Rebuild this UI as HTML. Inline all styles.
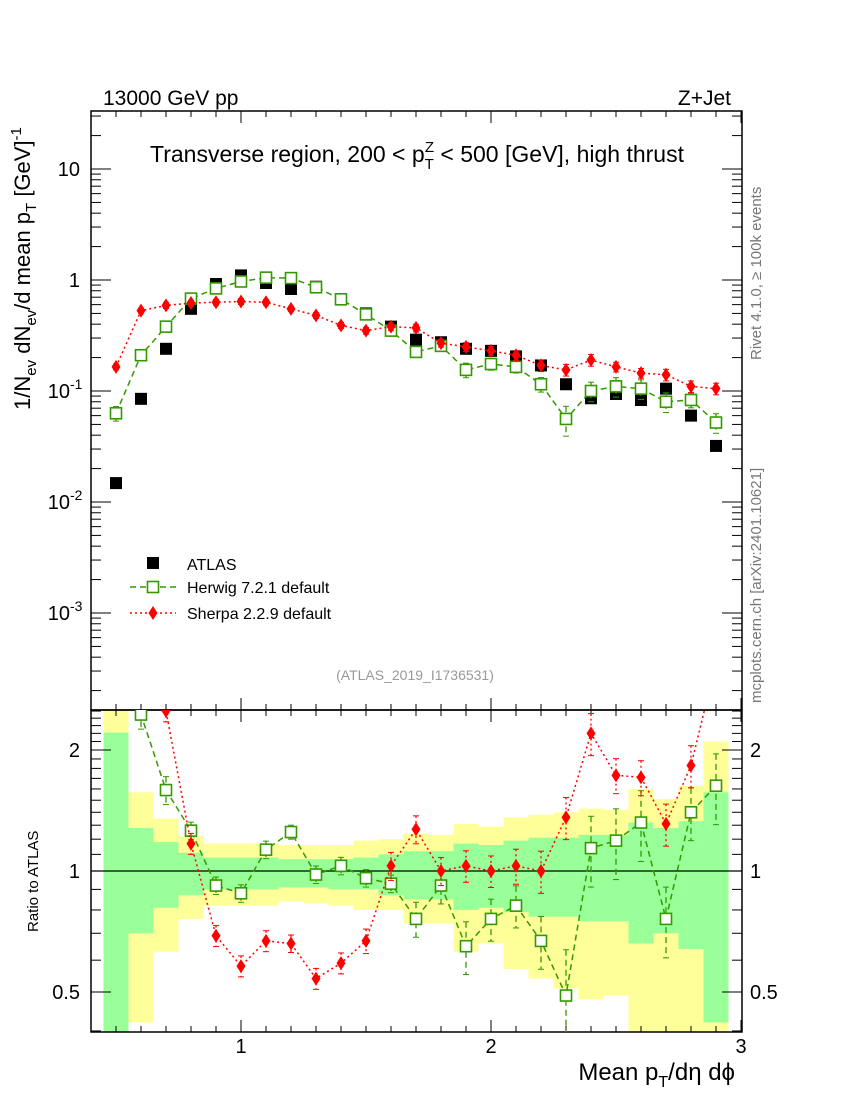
<!DOCTYPE html>
<html><head><meta charset="utf-8"><style>
html,body{margin:0;padding:0;background:#fff;}
svg{display:block;font-family:"Liberation Sans",sans-serif;}
</style></head><body>
<svg id="chart" width="850" height="1100" viewBox="0 0 850 1100" xmlns="http://www.w3.org/2000/svg"></svg>
<script>
const xCenters=[0.5,0.6,0.7,0.8,0.9,1.0,1.1,1.2,1.3,1.4,1.5,1.6,1.7,1.8,1.9,2.0,2.1,2.2,2.3,2.4,2.5,2.6,2.7,2.8,2.9];
const atlasVals=[0.0148,0.085,0.24,0.55,0.92,1.1,0.94,0.83,0.87,0.67,0.5,0.38,0.29,0.275,0.24,0.23,0.205,0.17,0.115,0.086,0.094,0.083,0.105,0.06,0.032];
const herwigVals=[0.063,0.21,0.38,0.68,0.84,0.97,1.05,1.04,0.86,0.67,0.49,0.35,0.225,0.255,0.155,0.175,0.165,0.115,0.056,0.1,0.11,0.105,0.08,0.083,0.052];
const sherpaVals=[0.165,0.53,0.59,0.62,0.63,0.64,0.63,0.55,0.48,0.39,0.35,0.38,0.37,0.27,0.25,0.23,0.21,0.17,0.155,0.19,0.165,0.145,0.14,0.11,0.105];
const herwigRatio=[4.3,2.45,1.59,1.26,0.92,0.88,1.13,1.25,0.98,1.03,0.96,0.93,0.76,0.92,0.65,0.76,0.82,0.67,0.49,1.14,1.19,1.32,0.76,1.40,1.63];
const sherpaRatio=[11,6.2,2.5,1.17,0.69,0.58,0.67,0.66,0.54,0.59,0.67,1.03,1.27,1.0,1.03,1.0,1.03,1.0,1.36,2.2,1.73,1.71,1.31,1.83,3.3];
const herwigErr=[0.15,0.08,0.08,0.05,0.05,0.05,0.05,0.04,0.05,0.05,0.05,0.05,0.1,0.1,0.15,0.12,0.12,0.15,0.3,0.2,0.2,0.2,0.2,0.15,0.2];
const sherpaErr=[0.06,0.05,0.06,0.06,0.06,0.06,0.06,0.05,0.06,0.06,0.07,0.08,0.08,0.08,0.09,0.09,0.1,0.12,0.12,0.12,0.1,0.1,0.12,0.12,0.12];
const greenLo=[0.397,0.70,0.81,0.87,0.90,0.90,0.90,0.91,0.91,0.90,0.90,0.87,0.85,0.85,0.80,0.81,0.79,0.77,0.77,0.75,0.75,0.66,0.70,0.64,0.42];
const greenHi=[2.21,1.28,1.18,1.11,1.08,1.08,1.08,1.07,1.07,1.07,1.08,1.10,1.12,1.12,1.17,1.16,1.19,1.21,1.21,1.23,1.23,1.32,1.28,1.33,1.57];
const yellowLo=[0.397,0.42,0.63,0.76,0.82,0.82,0.82,0.84,0.83,0.82,0.80,0.80,0.74,0.74,0.63,0.66,0.57,0.54,0.51,0.48,0.49,0.397,0.397,0.397,0.397];
const yellowHi=[2.6,1.57,1.35,1.22,1.17,1.17,1.17,1.16,1.16,1.16,1.19,1.20,1.24,1.23,1.31,1.29,1.36,1.38,1.40,1.43,1.42,1.60,1.51,1.63,2.10];
const yTickLabels=["10","1","10","10","10"];

const NS="http://www.w3.org/2000/svg";
const svg=document.getElementById('chart');
const L=91,R=742,T=111,M=710,B=1032;
const xS=v=>L+(v-0.4)*250;
const yMain=v=>280-111*Math.log10(v);
const yRat=v=>871-121*Math.log2(v);
function el(tag,attrs,parent){const e=document.createElementNS(NS,tag);for(const k in attrs)e.setAttribute(k,attrs[k]);(parent||svg).appendChild(e);return e;}
function txt(s,x,y,attrs,parent){const e=el('text',Object.assign({x:x,y:y},attrs),parent);e.textContent=s;return e;}

const defs=el('defs',{});
const c1=el('clipPath',{id:'cm'},defs);el('rect',{x:L,y:T,width:R-L,height:M-T},c1);
const c2=el('clipPath',{id:'cr'},defs);el('rect',{x:L,y:M,width:R-L,height:B-M},c2);

const bandG=el('g',{'clip-path':'url(#cr)'});


xCenters.forEach((c,i)=>{
  const x0=xS(c-0.05),x1=xS(c+0.05);
  const ry=el('rect',{x:x0,y:yRat(yellowHi[i]),width:x1-x0,height:yRat(yellowLo[i])-yRat(yellowHi[i]),fill:'#ffff99'},bandG);
  
  
  const rg=el('rect',{x:x0,y:yRat(greenHi[i]),width:x1-x0,height:yRat(greenLo[i])-yRat(greenHi[i]),fill:'#99ff99'},bandG);
  
  
});
el('line',{x1:L,x2:R,y1:yRat(1),y2:yRat(1),stroke:'#000','stroke-width':1.3});

el('rect',{x:L,y:T,width:R-L,height:M-T,fill:'none',stroke:'#000','stroke-width':1.5});
el('rect',{x:L,y:M,width:R-L,height:B-M,fill:'none',stroke:'#000','stroke-width':1.5});

for(let k=4;k<=30;k++){
  const v=k/10,x=xS(v),maj=(k%10===0),len=maj?12:6;
  [[T,1],[M,-1],[M,1],[B,-1]].forEach(([y,d])=>el('line',{x1:x,x2:x,y1:y,y2:y+d*len,stroke:'#000'}));
}
for(let e=-4;e<=1;e++){for(let m=1;m<10;m++){const v=m*Math.pow(10,e);const y=yMain(v);if(y<T||y>M)continue;const len=m===1?20:10;
  el('line',{x1:L,x2:L+len,y1:y,y2:y,stroke:'#000'});el('line',{x1:R,x2:R-len,y1:y,y2:y,stroke:'#000'});}}
[0.4,0.5,0.6,0.7,0.8,0.9,1,1.1,1.2,1.3,1.4,1.5,1.6,1.7,1.8,1.9,2,2.1,2.2,2.3,2.4,2.5].forEach(v=>{const y=yRat(v);if(y<M||y>B)return;const len=(v===0.5||v===1||v===2)?20:10;
  el('line',{x1:L,x2:L+len,y1:y,y2:y,stroke:'#000'});el('line',{x1:R,x2:R-len,y1:y,y2:y,stroke:'#000'});});

const yTickExp=[1,0,-1,-2,-3];
yTickExp.forEach((e,i)=>{const y=yMain(Math.pow(10,e))+7;
  const t=txt(yTickLabels[i],e<0?70:80,y,{'font-size':20,'text-anchor':'end'});
  
  if(e<0){const s=txt(String(e),70,y-9,{'font-size':14,'text-anchor':'start'});}
});
[[2,'2'],[1,'1'],[0.5,'0.5']].forEach(([v,s])=>{
  const a=txt(s,80,yRat(v)+7,{'font-size':20,'text-anchor':'end'});
  const b=txt(s,750,yRat(v)+7,{'font-size':20});
});
[1,2,3].forEach(v=>{const t=txt(String(v),xS(v),1053,{'font-size':20,'text-anchor':'middle'});});

function series(vals,errs,yf,clip,color,dash,marker,name){
  const g=el('g',{'clip-path':clip});
  
  
  if(dash){const pts=xCenters.map((c,i)=>xS(c)+','+yf(vals[i])).join(' ');
    el('polyline',{points:pts,fill:'none',stroke:color,'stroke-width':1.5,'stroke-dasharray':dash},g);}
  xCenters.forEach((c,i)=>{
    const x=xS(c),y=yf(vals[i]);
    if(errs){const y1=yf(vals[i]*(1+errs[i])),y2=yf(vals[i]*(1-errs[i]));
      el('line',{x1:x,x2:x,y1:y1,y2:y2,stroke:color,'stroke-width':1.3,'stroke-dasharray':dash||''},g);
      el('line',{x1:x-3,x2:x+3,y1:y1,y2:y1,stroke:color},g);el('line',{x1:x-3,x2:x+3,y1:y2,y2:y2,stroke:color},g);}
    let m;
    if(marker==='sq')m=el('rect',{x:x-6,y:y-6,width:12,height:12,fill:'#000'},g);
    else if(marker==='osq')m=el('rect',{x:x-5.5,y:y-5.5,width:11,height:11,fill:'#fff',stroke:color,'stroke-width':1.6},g);
    else m=el('polygon',{points:`${x},${y-7} ${x+4.5},${y} ${x},${y+7} ${x-4.5},${y}`,fill:color},g);
    
    
  });
}
series(atlasVals,null,yMain,'url(#cm)','#000',null,'sq','atlas-data');
series(herwigVals,herwigErr,yMain,'url(#cm)','#339900','6,4','osq','herwig-series');
series(sherpaVals,sherpaErr,yMain,'url(#cm)','#ff0000','2,3','dia','sherpa-series');
series(herwigRatio,herwigErr,yRat,'url(#cr)','#339900','6,4','osq','herwig-ratio');
series(sherpaRatio,sherpaErr,yRat,'url(#cr)','#ff0000','2,3','dia','sherpa-ratio');

const lg=el('g',{});


el('rect',{x:147,y:557,width:12,height:12,fill:'#000'},lg);
txt('ATLAS',187,570,{'font-size':16},lg);
el('line',{x1:130,x2:176,y1:587,y2:587,stroke:'#339900','stroke-width':1.5,'stroke-dasharray':'6,4'},lg);
el('rect',{x:147.5,y:581.5,width:11,height:11,fill:'#fff',stroke:'#339900','stroke-width':1.6},lg);
txt('Herwig 7.2.1 default',187,593,{'font-size':16},lg);
el('line',{x1:130,x2:176,y1:613,y2:613,stroke:'#ff0000','stroke-width':1.5,'stroke-dasharray':'2,3'},lg);
el('polygon',{points:'153,606 157.5,613 153,620 148.5,613',fill:'#ff0000'},lg);
txt('Sherpa 2.2.9 default',187,619,{'font-size':16},lg);
</script>
<svg width="850" height="1100" style="position:absolute;left:0;top:0" xmlns="http://www.w3.org/2000/svg" font-family="Liberation Sans, sans-serif">
<text x="103" y="105" font-size="21">13000 GeV pp</text>
<text x="731" y="105" font-size="21" text-anchor="end">Z+Jet</text>
<text x="417" y="162" font-size="23" text-anchor="middle">Transverse region, 200 &lt; p<tspan font-size="15" dy="7">T</tspan><tspan font-size="15" dx="-9" dy="-17">Z</tspan><tspan dy="10"> &lt; 500 [GeV], high thrust</tspan></text>
<text x="415" y="680" font-size="14" fill="#999" text-anchor="middle">(ATLAS_2019_I1736531)</text>
<text transform="translate(30,410) rotate(-90)" font-size="22">1/N<tspan font-size="15" dy="6">ev</tspan><tspan dy="-6"> dN</tspan><tspan font-size="15" dy="6">ev</tspan><tspan dy="-6">/d mean p</tspan><tspan font-size="15" dy="6">T</tspan><tspan dy="-6"> [GeV]</tspan><tspan font-size="15" dy="-9">-1</tspan></text>
<text transform="translate(38,932) rotate(-90)" font-size="15">Ratio to ATLAS</text>
<text x="735" y="1080" font-size="24" text-anchor="end">Mean p<tspan font-size="16" dy="7">T</tspan><tspan dy="-7">/dη dϕ</tspan></text>
<text transform="translate(761,360) rotate(-90)" font-size="15" fill="#777">Rivet 4.1.0, ≥ 100k events</text>
<text transform="translate(761,703) rotate(-90)" font-size="15" fill="#777">mcplots.cern.ch [arXiv:2401.10621]</text>
</svg>
</body></html>
